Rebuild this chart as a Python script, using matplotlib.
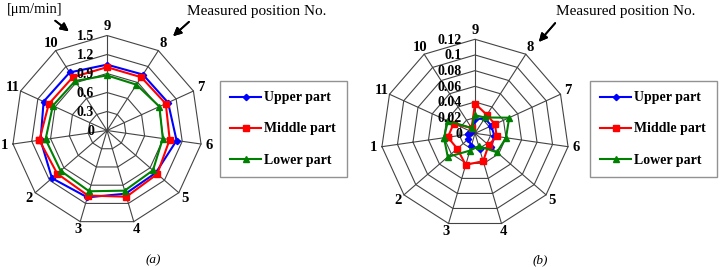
import numpy as np
import matplotlib
matplotlib.use("Agg")
import matplotlib.pyplot as plt

plt.rcParams['font.family'] = ['Liberation Serif', 'DejaVu Serif']

# measured positions 1..11
positions = list(range(1, 12))
series_names = ['Upper part', 'Middle part', 'Lower part']

# (a) rate [um/min]
upper_a = [1.06, 1.15, 1.10, 1.04, 1.02, 1.11, 1.06, 1.05, 1.04, 1.09, 1.10]
middle_a = [1.08, 1.04, 1.07, 1.09, 1.05, 1.00, 1.02, 1.00, 1.00, 1.00, 1.01]
lower_a = [0.98, 0.97, 1.00, 0.99, 0.96, 0.89, 0.91, 0.86, 0.87, 0.93, 0.94]
ticks_a = [0, 0.3, 0.6, 0.9, 1.2, 1.5]
ticklabels_a = ['0', '0.3', '0.6', '0.9', '1.2', '1.5']

# (b)
upper_b = [0.009, 0.011, 0.017, 0.021, 0.027, 0.025, 0.023, 0.023, 0.018, 0.006, 0.005]
middle_b = [0.035, 0.030, 0.042, 0.037, 0.023, 0.028, 0.028, 0.028, 0.038, 0.008, 0.030]
lower_b = [0.040, 0.046, 0.023, 0.017, 0.037, 0.040, 0.048, 0.024, 0.023, 0.008, 0.038]
ticks_b = [0, 0.02, 0.04, 0.06, 0.08, 0.1, 0.12]
ticklabels_b = ['0', '0.02', '0.04', '0.06', '0.08', '0.1', '0.12']

colors = ['#0000ff', '#ff0000', '#008000']
markers = ['D', 's', '^']
msizes = [3.2, 5, 5]

W, H = 720, 267


def fx(x):
    return x / W


def fy(y):
    return 1 - y / H


def radar(rect, data, ticks, ticklabels):
    ax = fig.add_axes(rect, projection='polar')
    n = len(positions)
    th = 2 * np.pi * (np.array(positions) - 1) / n
    # position 9 at the top, numbers increasing counter-clockwise
    ax.set_theta_offset(np.pi / 2 - th[positions.index(9)])
    rmax = ticks[-1]
    ax.set_ylim(0, rmax)
    ax.grid(False)
    ax.spines['polar'].set_visible(False)
    ax.set_xticks([])
    ax.set_yticks([])
    ax.patch.set_visible(False)

    thc = np.append(th, th[0])
    for r in ticks[1:]:
        ax.plot(thc, [r] * (n + 1), color='#444444', lw=0.8, clip_on=False, zorder=1)
    for t in th:
        ax.plot([t, t], [0, rmax], color='#444444', lw=0.8, clip_on=False, zorder=1)

    for vals, c, m, ms, name in zip(data, colors, markers, msizes, series_names):
        ax.plot(thc, np.append(vals, vals[0]), color=c, marker=m, ms=ms, lw=1.5,
                label=name, clip_on=False, zorder=3)

    t9 = th[positions.index(9)]
    for r, lbl in zip(ticks, ticklabels):
        ax.annotate(lbl, xy=(t9, r), xytext=(-13, -1), textcoords='offset pixels',
                    ha='right', va='center', fontsize=10, fontweight='bold', zorder=4)
    for t, p in zip(th, positions):
        ax.text(t, rmax * 1.09, str(p), ha='center', va='center',
                fontsize=10.5, fontweight='bold')
    return ax


fig = plt.figure(figsize=(7.2, 2.67), dpi=100)

ax1 = radar([fx(12), fy(225.5), 190 / W, 190 / H],
            [upper_a, middle_a, lower_a], ticks_a, ticklabels_a)
ax2 = radar([fx(381), fy(227.3), 188 / W, 188 / H],
            [upper_b, middle_b, lower_b], ticks_b, ticklabels_b)

for ax, lx in [(ax1, 220), (ax2, 590)]:
    leg = ax.legend(loc='upper left', bbox_to_anchor=(fx(lx), fy(81)),
                    bbox_transform=fig.transFigure, fancybox=False,
                    edgecolor='#777777', prop={'weight': 'bold', 'size': 10},
                    handlelength=2.2, labelspacing=1.3, borderpad=0.75,
                    handletextpad=0.25, borderaxespad=0)
    leg.get_frame().set_linewidth(1.0)

arrow = dict(arrowstyle='-|>', color='black', lw=1.3, mutation_scale=12)
fig.text(fx(187), fy(12), 'Measured position No.', fontsize=11, va='center', ha='left')
fig.text(fx(556), fy(12), 'Measured position No.', fontsize=11, va='center', ha='left')
fig.text(fx(7), fy(10), '[\u03bcm/min]', fontsize=10.5, va='center', ha='left')
fig.add_artist(plt.annotate('', xy=(fx(171), fy(38)), xytext=(fx(191), fy(20)),
                            xycoords='figure fraction', arrowprops=arrow))
fig.add_artist(plt.annotate('', xy=(fx(537), fy(44)), xytext=(fx(557), fy(21)),
                            xycoords='figure fraction', arrowprops=arrow))
fig.add_artist(plt.annotate('', xy=(fx(71), fy(33)), xytext=(fx(53), fy(19)),
                            xycoords='figure fraction', arrowprops=arrow))

fig.text(fx(153), fy(260), '(a)', fontsize=9.5, style='italic', ha='center', va='center')
fig.text(fx(540), fy(260), '(b)', fontsize=9.5, style='italic', ha='center', va='center')

fig.savefig('out.png', dpi=100)
